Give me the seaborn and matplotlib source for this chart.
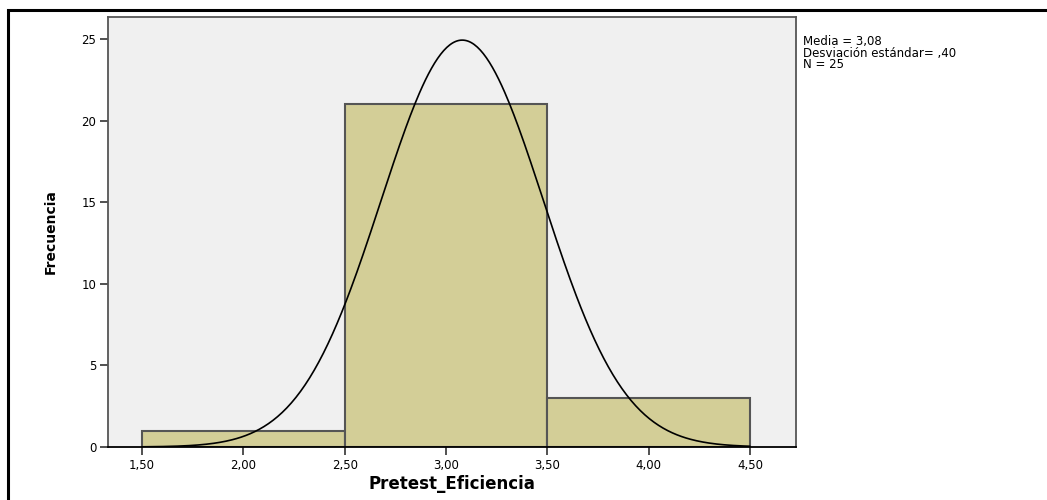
import numpy as np
import pandas as pd
import matplotlib
matplotlib.use("Agg")
import matplotlib.pyplot as plt
import seaborn as sns

# histogram bins (Pretest_Eficiencia)
bin_edges = [1.5, 2.5, 3.5, 4.5]
bin_centers = [2.0, 3.0, 4.0]
counts = [1, 21, 3]
media = 3.08
desv = 0.40
n = 25
xtick_vals = [1.5, 2.0, 2.5, 3.0, 3.5, 4.0, 4.5]
xtick_labels = ["1,50", "2,00", "2,50", "3,00", "3,50", "4,00", "4,50"]
ytick_vals = [0, 5, 10, 15, 20, 25]

sns.set_style("white")
plt.rcParams['font.family'] = ['DejaVu Sans']
plt.rcParams['text.color'] = 'black'

df = pd.DataFrame({"valor": bin_centers, "frec": counts})

fig = plt.figure(figsize=(10.47, 5.0), dpi=100)
ax = fig.add_axes([108/1047, 1 - 447/500, (796-108)/1047, (447-17)/500])
ax.set_facecolor("#F0F0F0")

sns.histplot(data=df, x="valor", weights="frec", bins=bin_edges, ax=ax,
             color="#D3CE97", alpha=1, edgecolor="#555555", linewidth=1.5)

# normal curve scaled to counts
xs = np.linspace(1.5, 4.5, 400)
width = bin_edges[1] - bin_edges[0]
ys = n * width / (desv * np.sqrt(2 * np.pi)) * np.exp(-0.5 * ((xs - media) / desv) ** 2)
ax.plot(xs, ys, color="black", linewidth=1.2)

ax.set_xlim(1.332, 4.727)
ax.set_ylim(0, 26.35)
ax.set_xticks(xtick_vals)
ax.set_xticklabels(xtick_labels)
ax.set_yticks(ytick_vals)
ax.tick_params(axis="both", direction="out", length=5.5, width=1.2, color="#333333",
               labelsize=8.5, labelcolor="black", pad=3, bottom=True, left=True)
for s in ["left", "top", "right"]:
    ax.spines[s].set_color("#555555")
    ax.spines[s].set_linewidth(1.3)
ax.spines["bottom"].set_color("black")
ax.spines["bottom"].set_linewidth(1.3)

ax.set_xlabel("Pretest_Eficiencia", fontsize=12, fontweight="bold", labelpad=2,
              color="black")
ax.set_ylabel("Frecuencia", fontsize=10, fontweight="bold", labelpad=17,
              color="black", family=["Liberation Sans Narrow", "DejaVu Sans"])

fig.text(803/1047, 1 - 35/500,
         "Media = 3,08\nDesviación estándar= ,40\nN = 25",
         fontsize=8.5, va="top", ha="left", linespacing=0.85)

# outer frame
frame = plt.Rectangle((8/1047, -0.1), 1.1, 1 - 10/500 + 0.1, transform=fig.transFigure,
                      fill=False, edgecolor="black", linewidth=2.2)
fig.patches.append(frame)

fig.savefig("out.png", dpi=100)
